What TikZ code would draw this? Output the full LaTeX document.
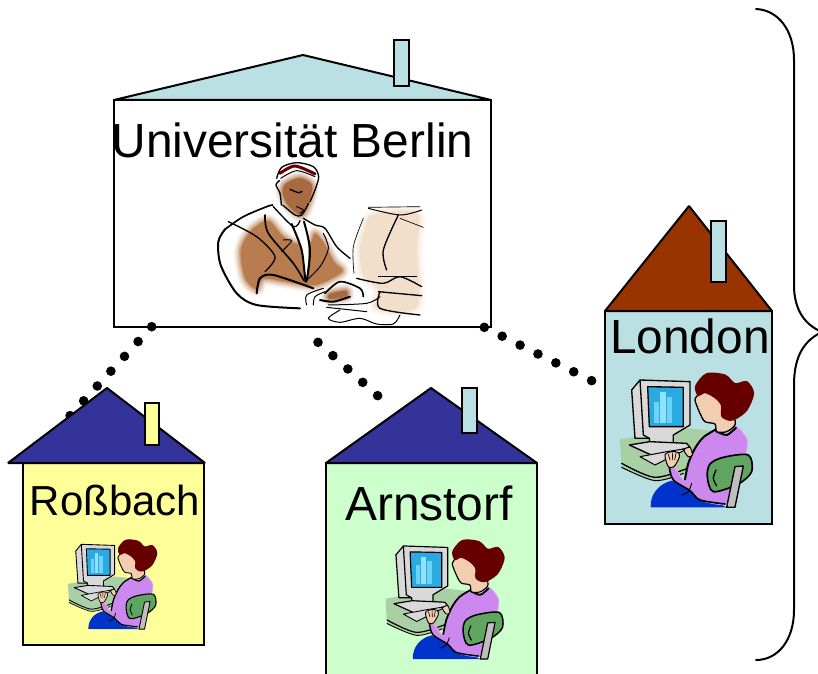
\documentclass[tikz,border=0pt]{standalone}
\usepackage{fontspec}
\setmainfont{Liberation Sans}
\definecolor{paleblue}{HTML}{BBE0E3}
\definecolor{navyroof}{HTML}{333399}
\definecolor{brownroof}{HTML}{993300}
\definecolor{paleyellow}{HTML}{FFFF99}
\definecolor{palegreen}{HTML}{CCFFCC}
\definecolor{wdesk}{HTML}{A9CFA5}
\definecolor{wscreen}{HTML}{29ABE2}
\definecolor{wbar}{HTML}{8FE3FF}
\definecolor{whair}{HTML}{660000}
\definecolor{wskin}{HTML}{F3CDB0}
\definecolor{wsweater}{HTML}{CC88EE}
\definecolor{wpants}{HTML}{0033CC}
\definecolor{wchair}{HTML}{5FA45F}
\definecolor{wgray}{HTML}{D9D9D9}
\definecolor{mbrown}{HTML}{B97C4E}
\definecolor{mface}{HTML}{A86A40}
\definecolor{mbeige}{HTML}{F2DFCB}
\tikzset{
  wall/.style={draw=black,line width=1.5pt,minimum width=#1,inner sep=0pt,outer sep=0pt},
  roofshape/.style={draw=black,line width=1.5pt,line join=bevel},
  chimney/.style={draw=black,line width=1.5pt},
  dots/.style={line width=7.2pt,line cap=round,dash pattern=on 0pt off #1},
  bigtext/.style={font=\fontsize{35.9pt}{40pt}\selectfont,anchor=base,inner sep=0pt},
  smalltext/.style={font=\fontsize{31.5pt}{36pt}\selectfont,anchor=base,inner sep=0pt},
  bracestroke/.style={draw=black,line width=1.5pt,line cap=round},
}
\newcommand{\softblob}[2]{%
  \foreach \wd/\mx in {40/10,32/20,24/35,16/50,8/70}{%
    \draw[draw=#1!\mx!white,line width=\wd*0.25pt,line join=round] plot[smooth cycle] coordinates {#2};}%
  \fill[#1] plot[smooth cycle] coordinates {#2};}
\newcommand{\ink}[2]{\draw[line width=#1*0.25pt,line cap=round,line join=round] plot[smooth] coordinates {#2};}
\newcommand{\mandrawing}[2]{%
\begin{scope}[shift={(#1,#2)},x=0.25pt,y=-0.25pt]
  \softblob{mbeige}{(495,235)(520,195)(650,190)(650,300)(650,470)(530,475)(535,420)(490,375)(480,300)}
  \softblob{mbrown}{(122,300)(155,240)(205,212)(245,255)(285,280)(330,280)(345,250)(372,280)(402,335)(428,362)(398,384)(340,406)(250,394)(190,386)(170,418)(135,385)}
  \softblob{mface}{(256,102)(300,84)(336,106)(326,158)(304,196)(266,168)(248,130)}
  \softblob{mface}{(388,432)(438,422)(438,440)(388,447)}
  \draw[line width=9*0.25pt,color=whair,line cap=round] plot[smooth] coordinates {(240,70)(285,48)(345,72)};
  \ink{4}{(230,85)(245,52)(290,38)(340,50)(356,80)(345,120)(330,155)}
  \ink{3}{(242,85)(290,62)(345,80)}
  \ink{4}{(238,92)(228,105)(240,130)(244,165)}
  \ink{4}{(248,165)(285,195)(305,195)(326,160)}
  \ink{4}{(270,118)(295,128)(306,124)}
  \ink{3}{(290,170)(310,180)(300,190)}
  \ink{5}{(75,238)(130,200)(200,170)(218,165)}
  \ink{6}{(75,238)(55,275)(62,345)(110,430)(170,465)(300,475)}
  \ink{4}{(85,215)(170,260)(225,320)(195,365)}
  \ink{5}{(195,195)(205,250)(280,340)(312,392)}
  \ink{3}{(250,270)(275,272)(245,305)}
  \fill[white] plot[smooth cycle] coordinates {(280,225)(310,218)(325,300)(318,385)(305,300)};
  \ink{6}{(275,222)(305,300)(318,395)(330,300)(312,215)}
  \ink{4}{(220,170)(280,230)(300,212)}
  \ink{4}{(310,205)(345,225)(375,235)(410,290)(450,325)}
  \ink{3}{(370,250)(385,295)(360,350)(315,395)}
  \ink{6}{(170,430)(180,385)(220,375)(340,415)}
  \ink{5}{(375,430)(420,395)(480,415)(490,440)}
  \ink{6}{(360,450)(400,455)(450,440)}
  \ink{3}{(320,465)(320,435)(370,415)}
  \ink{3}{(340,465)(345,440)(375,425)}
  \ink{3}{(385,465)(500,460)(540,440)}
  \ink{3}{(380,472)(500,485)}
  \ink{3}{(420,480)(385,505)(420,517)(480,505)(530,522)(580,522)(600,495)}
  \ink{2}{(505,172)(660,170)}
  \ink{3}{(505,175)(600,195)(665,180)}
  \ink{4}{(595,195)(550,300)(560,360)}
  \ink{2}{(600,205)(670,232)}
  \ink{2}{(490,205)(460,290)(462,370)}
  \ink{4}{(470,385)(550,400)(600,380)(665,410)}
  \ink{2}{(535,380)(650,380)}
  \ink{4}{(535,425)(665,437)}
  \ink{4}{(540,425)(540,475)(660,495)}
\end{scope}}
\newcommand{\womandrawing}[3]{%
\begin{scope}[shift={(#1,#2)},x=#3*0.75pt,y=-#3*0.75pt,
    wl/.style={line width=#3*0.75pt*##1,line join=round,line cap=round}]
  % desk
  \fill[wdesk] (30,238)--(240,205)--(330,215)--(300,330)--(135,362)--(35,325)--cycle;
  \draw[wl=4] plot[smooth] coordinates {(35,310)(135,352)(240,322)};
  \draw[wl=3] plot[smooth] coordinates {(35,322)(135,362)(220,340)};
  % monitor
  \fill[wgray] (65,90)--(90,60)--(240,65)--(240,195)--(190,225)--(190,245)--(120,255)--(118,235)--(75,235)--cycle;
  \draw[wl=4] (65,90)--(90,60)--(240,65)--(240,195)--(190,225)--(190,245);
  \draw[wl=4] (65,90)--(75,235)--(118,235)--(120,255);
  \draw[wl=4] (90,60)--(100,225)--(118,235);
  % keyboard
  \filldraw[fill=wgray,wl=4] (58,255)--(120,245)--(230,250)--(240,262)--(135,290)--cycle;
  \filldraw[fill=wgray,wl=3] (90,290)--(170,275)--(235,265)--(135,315)--cycle;
  % screen
  \filldraw[fill=wscreen,wl=4] (113,80)--(220,82)--(220,200)--(118,200)--cycle;
  \fill[wbar!70!wscreen] (133,125) rectangle (147,190);
  \fill[wbar] (150,97) rectangle (167,190);
  \fill[wbar!70!wscreen] (170,112) rectangle (187,190);
  % pants
  \fill[wpants] (122,442) .. controls (120,400) and (150,370) .. (185,362) -- (350,442) -- cycle;
  % sweater
  \filldraw[fill=wsweater,draw=wsweater!70!white,wl=3] plot[smooth cycle,tension=0.45] coordinates {(320,210)(280,235)(255,265)(235,310)(222,360)(195,325)(175,318)(190,360)(240,392)(270,420)(345,432)(385,375)(405,295)(412,240)(380,200)(350,222)};
  \draw[wl=6] plot[smooth] coordinates {(318,208)(280,232)(255,265)(235,310)(225,358)};
  \draw[wl=5] plot[smooth] coordinates {(178,322)(190,360)(240,392)(270,420)(345,432)};
  \draw[wl=6] plot[smooth] coordinates {(318,213)(350,225)(378,203)};
  \draw[wl=3] plot[smooth] coordinates {(215,405)(235,395)(245,370)};
  % chair
  \filldraw[fill=wchair,wl=5] plot[smooth cycle,tension=0.5] coordinates {(292,350)(300,312)(340,292)(415,285)(425,335)(385,372)(310,395)};
  \draw[wl=4] plot[smooth] coordinates {(318,330)(310,355)(320,378)};
  \filldraw[fill=wgray!70!gray,wl=4] (375,320)--(400,318)--(375,442)--(350,442)--cycle;
  % hair and face
  \filldraw[fill=wskin,wl=4] plot[smooth] coordinates {(265,105)(255,120)(270,160)(285,185)(315,192)(320,215)(350,215)(375,195)(370,170)(340,165)(340,135)(320,110)(285,95)} -- cycle;
  \filldraw[fill=whair,draw=whair,wl=5] plot[smooth cycle,tension=0.5] coordinates {(258,78)(290,42)(345,46)(375,72)(410,66)(430,100)(410,150)(378,175)(358,180)(336,168)(335,135)(315,112)(285,97)(265,105)};
  % hands
  \filldraw[fill=wskin,wl=3] plot[smooth cycle,tension=0.5] coordinates {(165,285)(185,275)(205,278)(208,292)(192,320)(175,320)};
  \draw[wl=2] (175,283)--(180,300) (187,278)--(188,300) (198,280)--(194,300);
  \filldraw[fill=wskin,wl=3] plot[smooth cycle,tension=0.5] coordinates {(222,270)(240,262)(247,285)(235,290)};
\end{scope}}
\begin{document}
\begin{tikzpicture}[x=0.75pt,y=-0.75pt]
\useasboundingbox (0,0) rectangle (818,674);
\clip (0,0) rectangle (818,674);
% University
\node[wall=282.75pt,minimum height=170.25pt,fill=white] (berlin) at (302.5,213.5) {};
\draw[roofshape,fill=paleblue] (114,100)--(303,55)--(491,100)--cycle;
\draw[chimney,fill=paleblue] (394,40) rectangle (409,86);
\node[bigtext] (berlintext) at (292.5,157) {Universität Berlin};
\mandrawing{200}{150}
% dotted links
\coordinate (berlinA) at (151.7,326.7);
\coordinate (rossA) at (70,415.7);
\coordinate (berlinB) at (318,342.3);
\coordinate (arnA) at (377.7,395.7);
\coordinate (berlinC) at (484.3,327.3);
\coordinate (londonA) at (591.7,380.7);
\draw[dots=15.09pt] (berlinA) -- (rossA);
\draw[dots=15pt] (berlinB) -- (arnA);
\draw[dots=14.98pt] (berlinC) -- (londonA);
% London
\node[wall=125.25pt,minimum height=159.75pt,fill=paleblue] (london) at (688.5,417.5) {};
\draw[roofshape,fill=brownroof] (605,311)--(689,206)--(772,311)--cycle;
\draw[chimney,fill=paleblue] (711,221) rectangle (726,282);
\node[bigtext] (londontext) at (690,353.5) {London};
\womandrawing{610}{360}{0.3333}
% Rossbach
\node[wall=135.75pt,minimum height=136.5pt,fill=paleyellow] (ross) at (113.5,554) {};
\draw[roofshape,fill=navyroof] (8,463)--(107,388)--(205,463)--cycle;
\draw[chimney,fill=paleyellow] (145,403) rectangle (159,445);
\node[smalltext] (rosstext) at (115,515) {Roßbach};
\womandrawing{61.3}{531}{0.222}
% Arnstorf
\node[wall=158.25pt,minimum height=165pt,fill=palegreen] (arn) at (431.5,573) {};
\draw[roofshape,fill=navyroof] (326,463)--(431,388)--(537,463)--cycle;
\draw[chimney,fill=paleblue] (462,388) rectangle (477,433);
\node[bigtext] (arntext) at (429,520) {Arnstorf};
\womandrawing{376.7}{528.2}{0.296}
% Brace
\draw[bracestroke] (756,9) .. controls (778,10) and (794,30) .. (794,60) -- (794,285) .. controls (794,310) and (805,325) .. (822,332) .. controls (805,340) and (794,355) .. (794,385) -- (794,610) .. controls (794,640) and (778,660) .. (756,660);
\end{tikzpicture}
\end{document}
